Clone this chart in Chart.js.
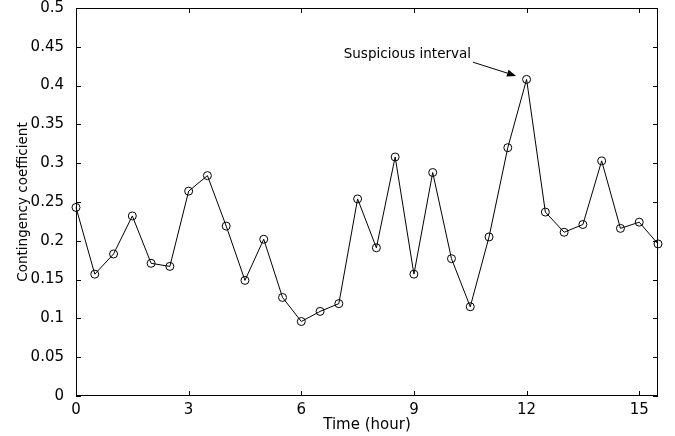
<!DOCTYPE html>
<html>
<head>
<meta charset="utf-8">
<script src="https://cdn.jsdelivr.net/npm/chart.js@4"></script>
<style>
  html, body { margin: 0; padding: 0; background: #fff; }
  #wrap { width: 675px; height: 436px; }
</style>
</head>
<body>
<div id="wrap"><canvas id="coefChart" width="675" height="436"></canvas></div>
<script>
// time in hours, one sample every half hour
const hours = [0, 0.5, 1, 1.5, 2, 2.5, 3, 3.5, 4, 4.5, 5, 5.5, 6, 6.5, 7, 7.5,
               8, 8.5, 9, 9.5, 10, 10.5, 11, 11.5, 12, 12.5, 13, 13.5, 14, 14.5, 15, 15.5];
const coefficient = [0.243, 0.157, 0.183, 0.232, 0.171, 0.167, 0.264, 0.284,
                     0.219, 0.149, 0.202, 0.127, 0.096, 0.109, 0.119, 0.254,
                     0.191, 0.308, 0.157, 0.288, 0.177, 0.115, 0.205, 0.320,
                     0.408, 0.237, 0.211, 0.221, 0.303, 0.216, 0.224, 0.196];
const xTicks = [0, 3, 6, 9, 12, 15];
const yTicks = [0, 0.05, 0.1, 0.15, 0.2, 0.25, 0.3, 0.35, 0.4, 0.45, 0.5];
const yTickLabels = ['0', '0.05', '0.1', '0.15', '0.2', '0.25', '0.3', '0.35', '0.4', '0.45', '0.5'];

// annotation text and arrow, in data units
const noteText = 'Suspicious interval';
const notePos = { x: 10.52, y: 0.4405 };
const arrowFrom = { x: 10.57, y: 0.4302 };
const arrowTo = { x: 11.72, y: 0.4125 };

const FONT = '"DejaVu Sans", sans-serif';

// matlab style box with inward ticks on all four sides + the arrow note
const boxPlugin = {
    id: 'boxPlugin',
    afterDatasetsDraw(chart) {
        const ctx = chart.ctx;
        const a = chart.chartArea;
        const xs = chart.scales.x;
        const ys = chart.scales.y;
        const tl = 5;
        ctx.save();
        ctx.strokeStyle = '#000';
        ctx.lineWidth = 1;
        ctx.strokeRect(a.left + 0.5, a.top + 0.5, a.right - a.left - 1, a.bottom - a.top - 1);
        ctx.beginPath();
        xTicks.forEach(v => {
            const px = Math.round(xs.getPixelForValue(v)) + 0.5;
            ctx.moveTo(px, a.bottom); ctx.lineTo(px, a.bottom - tl);
            ctx.moveTo(px, a.top); ctx.lineTo(px, a.top + tl);
        });
        yTicks.forEach(v => {
            const py = Math.round(ys.getPixelForValue(v)) + 0.5;
            ctx.moveTo(a.left, py); ctx.lineTo(a.left + tl, py);
            ctx.moveTo(a.right, py); ctx.lineTo(a.right - tl, py);
        });
        ctx.stroke();

        // annotation
        ctx.fillStyle = '#000';
        ctx.font = '13.5px ' + FONT;
        ctx.textAlign = 'right';
        ctx.textBaseline = 'middle';
        ctx.fillText(noteText, xs.getPixelForValue(notePos.x), ys.getPixelForValue(notePos.y));

        const x0 = xs.getPixelForValue(arrowFrom.x), y0 = ys.getPixelForValue(arrowFrom.y);
        const x1 = xs.getPixelForValue(arrowTo.x), y1 = ys.getPixelForValue(arrowTo.y);
        const ang = Math.atan2(y1 - y0, x1 - x0);
        const hl = 9, hw = 3.5;
        const bx = x1 - hl * Math.cos(ang), by = y1 - hl * Math.sin(ang);
        ctx.beginPath();
        ctx.moveTo(x0, y0);
        ctx.lineTo(bx, by);
        ctx.stroke();
        ctx.beginPath();
        ctx.moveTo(x1, y1);
        ctx.lineTo(bx + hw * Math.sin(ang), by - hw * Math.cos(ang));
        ctx.lineTo(bx - hw * Math.sin(ang), by + hw * Math.cos(ang));
        ctx.closePath();
        ctx.fill();
        ctx.restore();
    }
};

const ctx = document.getElementById('coefChart').getContext('2d');
new Chart(ctx, {
    type: 'line',
    data: {
        datasets: [{
            data: hours.map((h, i) => ({ x: h, y: coefficient[i] })),
            borderColor: '#000',
            borderWidth: 1,
            backgroundColor: 'rgba(0,0,0,0)',
            pointStyle: 'circle',
            pointRadius: 4,
            pointBorderWidth: 1,
            pointBorderColor: '#000',
            pointBackgroundColor: 'rgba(0,0,0,0)',
            tension: 0,
            fill: false,
            clip: false
        }]
    },
    options: {
        responsive: false,
        animation: false,
        devicePixelRatio: 1,
        layout: { padding: { top: 0, right: 17, left: 0, bottom: 0 } },
        plugins: {
            legend: { display: false },
            tooltip: { enabled: false }
        },
        scales: {
            x: {
                type: 'linear',
                min: 0,
                max: 15.5,
                grid: { display: false },
                border: { display: false },
                afterBuildTicks: s => { s.ticks = xTicks.map(v => ({ value: v })); },
                afterFit: s => { s.height = 40; s.paddingLeft = 0; s.paddingRight = 0; },
                ticks: {
                    color: '#000',
                    font: { family: FONT, size: 15 },
                    padding: -3,
                    maxRotation: 0,
                    callback: v => String(v)
                },
                title: {
                    display: true,
                    text: 'Time (hour)',
                    color: '#000',
                    font: { family: FONT, size: 15 },
                    padding: { top: 0, bottom: 2 }
                }
            },
            y: {
                type: 'linear',
                min: 0,
                max: 0.5,
                grid: { display: false },
                border: { display: false },
                afterBuildTicks: s => { s.ticks = yTicks.map(v => ({ value: v })); },
                afterFit: s => { s.width = 76; s.paddingTop = 8; s.paddingBottom = 0; },
                ticks: {
                    color: '#000',
                    font: { family: FONT, size: 15 },
                    padding: 4,
                    callback: (v, i) => yTickLabels[i]
                },
                title: {
                    display: true,
                    text: 'Contingency coefficient',
                    color: '#000',
                    font: { family: FONT, size: 13.5 },
                    padding: { top: 15, bottom: 0 }
                }
            }
        }
    },
    plugins: [boxPlugin]
});
</script>
</body>
</html>
